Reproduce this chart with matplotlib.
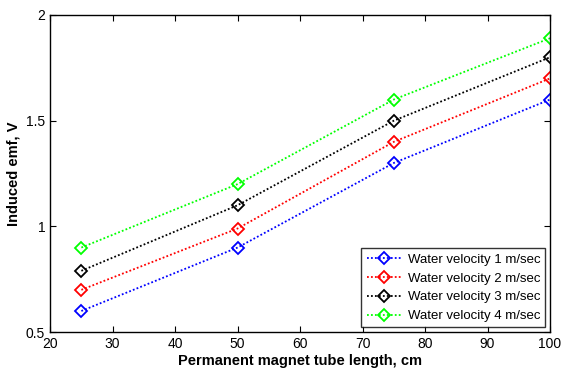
import numpy as np
import matplotlib.pyplot as plt

plt.rcParams['font.family'] = ['Liberation Sans', 'DejaVu Sans']

length = np.array([25, 50, 75, 100])
v1 = np.array([0.60, 0.90, 1.30, 1.60])
v2 = np.array([0.70, 0.99, 1.40, 1.70])
v3 = np.array([0.79, 1.10, 1.50, 1.80])
v4 = np.array([0.90, 1.20, 1.60, 1.89])

series = [(v1, 'b', 'Water velocity 1 m/sec'),
          (v2, 'r', 'Water velocity 2 m/sec'),
          (v3, 'k', 'Water velocity 3 m/sec'),
          (v4, '#00ff00', 'Water velocity 4 m/sec')]

fig = plt.figure(figsize=(5.63, 3.74), dpi=100)
ax = fig.add_axes([0.089, 0.112, 0.888, 0.848])

for vals, c, lab in series:
    ax.plot(length, vals, linestyle=(0, (1, 1.2)), color=c, marker='D', markersize=6.5,
            markerfacecolor='none', markeredgecolor=c, markeredgewidth=1.3,
            linewidth=1.3, label=lab)

ax.set_xlim(20, 100)
ax.set_ylim(0.5, 2)
ax.set_xticks(np.arange(20, 101, 10))
ax.set_yticks([0.5, 1, 1.5, 2])
ax.set_yticklabels(['0.5', '1', '1.5', '2'])
ax.tick_params(direction='in', top=True, right=True, labelsize=10, length=4)
for s in ax.spines.values():
    s.set_linewidth(1.0)

ax.set_xlabel('Permanent magnet tube length, cm', fontsize=10.5, fontweight='bold', labelpad=2)
ax.set_ylabel('Induced emf, V', fontsize=10.5, fontweight='bold', labelpad=4)

leg = ax.legend(loc='lower right', fontsize=9.5, frameon=True, fancybox=False,
                edgecolor='k', borderaxespad=0.35, handlelength=2.7,
                labelspacing=0.5, borderpad=0.4, handletextpad=0.4)
leg.get_frame().set_linewidth(1.0)

plt.savefig('out.png', dpi=100)
